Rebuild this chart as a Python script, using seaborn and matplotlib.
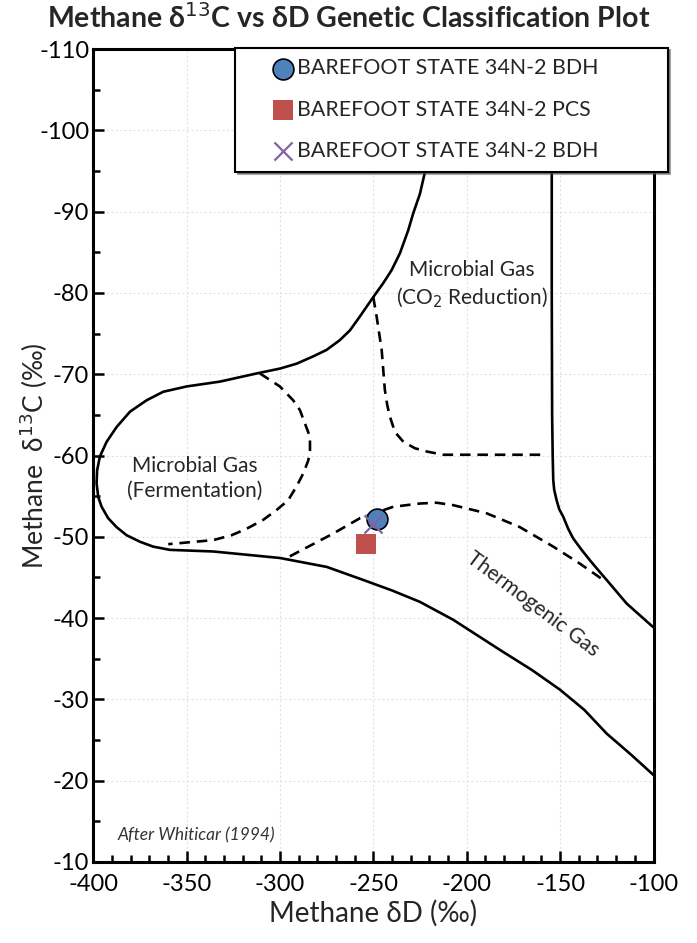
import numpy as np
import pandas as pd
import seaborn as sns
import matplotlib.pyplot as plt
from matplotlib.ticker import MultipleLocator

outer_x = [-211, -214, -218, -222.4, -225.1, -228.7, -231.4, -235.8, -240.3, -244.8, -250.1, -253.7,
           -257.3, -262.6, -268, -275.1, -282.3, -291.2, -300.1, -312.6, -332.2, -350.1, -362.6,
           -371.5, -380.4, -387.6, -392.9, -396.5, -398, -398.3, -397.4, -395.6, -392.1, -387.6,
           -382.2, -375.1, -368, -359, -335.8, -300.1, -275, -255.5, -240, -225.1, -207.3, -182.3,
           -165, -150.1, -137, -125.1, -112, -100]
outer_y = [-110, -105, -100, -94.9, -92.2, -89.8, -87.7, -84.9, -82.8, -81.2, -79.5, -78.3,
           -77.1, -75.4, -74.2, -73.0, -72.2, -71.3, -70.7, -70.1, -69.1, -68.5, -67.85,
           -66.8, -65.4, -63.5, -61.7, -59.9, -58.2, -56.6, -54.9, -53.7, -52.3, -51.2,
           -50.2, -49.4, -48.8, -48.4, -48.2, -47.4, -46.3, -44.7, -43.4, -42.0, -39.8, -36.1,
           -33.6, -31.2, -28.7, -25.8, -23.2, -20.7]

thermo_x = [-154.5, -154.5, -154.3, -154, -153.7, -153.2, -151.9, -150.5, -148.4, -145.7, -143,
            -138.5, -134, -129.6, -125.1, -114.4, -100.2]
thermo_y = [-110, -80, -65, -60, -57, -55.8, -54.5, -53.4, -52.5, -51.0, -49.8,
            -48.4, -47.1, -45.9, -44.7, -41.8, -38.9]

ferm_x = [-310.8, -300.1, -293, -289.4, -284, -284, -284.9, -287.6, -291.2, -295.7, -301.9, -309,
          -317.9, -326, -335.8, -359.9]
ferm_y = [-70.1, -68.5, -66.8, -65.6, -62.3, -60.7, -59.4, -57.8, -56.2, -54.5, -53.3, -52.1,
          -51.0, -50.2, -49.6, -49.1]

co2_x = [-250.1, -248.3, -245.6, -243.9, -242.6, -241.2, -238.5, -234, -227.8, -221.5, -212.6, -159.1]
co2_y = [-79.5, -77.1, -73.0, -68.1, -66.2, -64.8, -62.9, -61.7, -60.9, -60.5, -60.1, -60.1]

mix_x = [-294.8, -271.6, -257.2, -239.4, -225.1, -216.2, -207.3, -189.4, -171.6, -153.7, -139.4, -126.9]
mix_y = [-47.6, -50.4, -52.3, -53.7, -54.1, -54.2, -53.9, -52.9, -51.2, -48.8, -46.7, -44.7]

# samples
samples = ["BAREFOOT STATE 34N-2 BDH", "BAREFOOT STATE 34N-2 PCS", "BAREFOOT STATE 34N-2 BDH"]
sample_dD = [-248, -254, -250.5]
sample_d13C = [-52.2, -49.1, -51.6]

sns.set_style("white")
plt.rcParams['font.family'] = ['Lato', 'DejaVu Sans']
plt.rcParams['axes.unicode_minus'] = False

fig = plt.figure(figsize=(6.97, 9.43), dpi=100)
ax = fig.add_axes([0.134, 0.0859, 0.8036, 0.862])

solid = dict(color="black", linewidth=1.9, estimator=None, sort=False, legend=False, ax=ax)
dash = dict(color="black", linewidth=1.9, estimator=None, sort=False, legend=False, ax=ax,
            linestyle=(0, (4, 2.6)))

for xs, ys, kw in [(outer_x, outer_y, solid), (thermo_x, thermo_y, solid),
                   (ferm_x, ferm_y, dash), (co2_x, co2_y, dash), (mix_x, mix_y, dash)]:
    sns.lineplot(x=xs, y=ys, **kw)
for ln in ax.lines:
    ln.set_solid_joinstyle("round")
    ln.set_dash_joinstyle("round")

sns.scatterplot(x=[sample_dD[0]], y=[sample_d13C[0]], marker="o", s=225, color="#4F81BD",
                edgecolor="black", linewidth=1.2, label=samples[0], ax=ax, zorder=5)
sns.scatterplot(x=[sample_dD[1]], y=[sample_d13C[1]], marker="s", s=200, color="#C0504D",
                edgecolor="none", label=samples[1], ax=ax, zorder=4)
sns.scatterplot(x=[sample_dD[2]], y=[sample_d13C[2]], marker="x", s=170, color="#8064A2",
                linewidth=1.6, label=samples[2], ax=ax, zorder=6)

ax.set_xlim(-400, -100)
ax.set_ylim(-10, -110)
ax.xaxis.set_major_locator(MultipleLocator(50))
ax.xaxis.set_minor_locator(MultipleLocator(10))
ax.yaxis.set_major_locator(MultipleLocator(10))
ax.yaxis.set_minor_locator(MultipleLocator(5))
ax.tick_params(which="both", direction="in", labelsize=17, width=1.8, colors="black")
ax.tick_params(which="major", length=8)
ax.tick_params(which="minor", length=5)
ax.tick_params(axis="x", which="both", top=False, bottom=True, pad=9)
ax.tick_params(axis="y", which="both", left=True, right=False, pad=3)
ax.grid(True, which="major", color="#e2e2e2", linestyle=(0, (2, 2)), linewidth=0.8)
for s in ax.spines.values():
    s.set_linewidth(2.2)
    s.set_color("black")

ax.set_xlabel("Methane δD (‰)", fontsize=20, labelpad=3)
ax.set_ylabel("Methane  δ$^{13}$C (‰)", fontsize=19, labelpad=-8)
fig.suptitle("Methane δ$^{13}$C vs δD Genetic Classification Plot", fontsize=20.5,
             fontweight="bold", x=0.5, y=0.981, va="center")

ax.text(-345.6, -57.2, "Microbial Gas\n(Fermentation)", fontsize=15, ha="center", va="center",
        linespacing=1.3)
ax.text(-197.3, -81, "Microbial Gas\n(CO$_2$ Reduction)", fontsize=15, ha="center", va="center",
        linespacing=1.3)
ax.text(-164.6, -41.7, "Thermogenic Gas", fontsize=15, ha="center", va="center", rotation=-37)
ax.text(-387, -13.3, "After Whiticar (1994)", fontsize=12.5, style="italic", ha="left",
        va="center", color="#333333")

leg = ax.legend(loc="upper left", bbox_to_anchor=(0.253, 0.0, 0.772, 1.002), mode="expand",
                fontsize=15.4, frameon=True, fancybox=False, shadow=True, edgecolor="black",
                borderpad=0.5, labelspacing=1.0, handletextpad=-1.09, handlelength=3.49,
                borderaxespad=0)
leg.get_frame().set_linewidth(1.5)
leg.set_zorder(10)

fig.savefig("out.png", dpi=100)
